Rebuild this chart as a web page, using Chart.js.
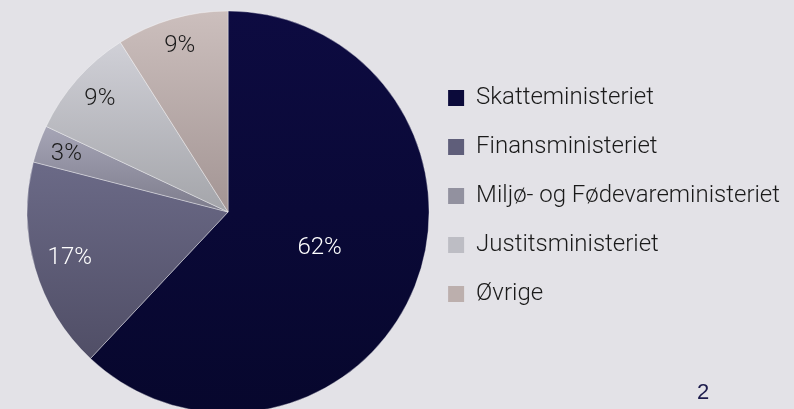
<!DOCTYPE html>
<html>
<head>
<meta charset="utf-8">
<script src="https://cdn.jsdelivr.net/npm/chart.js@4/dist/chart.umd.min.js"></script>
<style>
  html, body { margin: 0; padding: 0; background: #e3e2e7; overflow: hidden; }
  #wrap { position: relative; width: 794px; height: 409px; }
  #pageNo { position: absolute; left: 697px; top: 381px; font: 22px 'Liberation Sans', Arial, sans-serif; line-height: 22px; color: #1c1b4c; }
</style>
</head>
<body>
<div id="wrap">
  <canvas id="chart" width="794" height="409"></canvas>
  <div id="pageNo">2</div>
</div>
<script>
// Data
const categories = ['Skatteministeriet', 'Finansministeriet', 'Miljø- og Fødevareministeriet', 'Justitsministeriet', 'Øvrige'];
const shares = [62, 17, 3, 9, 9];

// Styles
const topColors = ['#0d0b41', '#6b6a87', '#a6a5b6', '#d0d0d7', '#ccbfbd'];
const bottomColors = ['#07072d', '#504e66', '#7d7c8c', '#a4a5aa', '#a39594'];
const legendColors = ['#0b0a3a', '#5f5e7a', '#92919f', '#bdbdc4', '#bcafad'];
const labelColors = ['#ffffff', '#ffffff', '#1a1a1a', '#1a1a1a', '#1a1a1a'];
const labelRadius = [0.49, 0.82, 0.855, 0.85, 0.86];
const pieRadius = 201;
const fontFamily = "Roboto, 'Noto Sans', sans-serif";

Chart.defaults.font.family = fontFamily;
Chart.defaults.color = '#1a1a1a';

// each slice gets its own top-to-bottom gradient, like the original
const sliceGradient = (context) => {
  const chart = context.chart;
  const area = chart.chartArea;
  const i = context.dataIndex;
  if (!area) return bottomColors[i];
  const total = shares.reduce((a, b) => a + b, 0);
  let before = 0;
  for (let k = 0; k < i; k++) before += shares[k];
  const a0 = -Math.PI / 2 + (before / total) * 2 * Math.PI;
  const a1 = a0 + (shares[i] / total) * 2 * Math.PI;
  const cy = (area.top + area.bottom) / 2;
  const ys = [cy, cy + pieRadius * Math.sin(a0), cy + pieRadius * Math.sin(a1)];
  [Math.PI / 2, (3 * Math.PI) / 2].forEach((a) => {
    if (a >= a0 && a <= a1) ys.push(cy + pieRadius * Math.sin(a));
  });
  const g = chart.ctx.createLinearGradient(0, Math.min(...ys), 0, Math.max(...ys));
  g.addColorStop(0, topColors[i]);
  g.addColorStop(1, bottomColors[i]);
  return g;
};

// percentage labels inside the slices
const sliceLabels = {
  id: 'sliceLabels',
  afterDatasetsDraw(chart) {
    const ctx = chart.ctx;
    const meta = chart.getDatasetMeta(0);
    ctx.save();
    ctx.font = '300 24px ' + fontFamily;
    ctx.textAlign = 'center';
    ctx.textBaseline = 'middle';
    meta.data.forEach((arc, i) => {
      const p = arc.getProps(['x', 'y', 'startAngle', 'endAngle', 'outerRadius'], true);
      const mid = (p.startAngle + p.endAngle) / 2;
      const r = p.outerRadius * labelRadius[i];
      ctx.fillStyle = labelColors[i];
      ctx.fillText(shares[i] + '%', p.x + Math.cos(mid) * r, p.y + Math.sin(mid) * r);
    });
    ctx.restore();
  },
};

let myChart = document.getElementById('chart').getContext('2d');

new Chart(myChart, {
  type: 'pie',
  data: {
    labels: categories,
    datasets: [
      {
        data: shares,
        backgroundColor: sliceGradient,
        borderColor: 'rgba(255,255,255,0.45)',
        borderWidth: 0.8,
      },
    ],
  },
  options: {
    responsive: false,
    animation: false,
    radius: pieRadius,
    layout: {
      padding: { top: 15, bottom: 0, left: 33, right: 4 },
    },
    plugins: {
      tooltip: { enabled: false },
      legend: {
        display: true,
        position: 'right',
        align: 'start',
        title: { display: true, text: '', font: { size: 16, lineHeight: 1 }, padding: 15 },
        labels: {
          boxWidth: 16,
          boxHeight: 16,
          padding: 25,
          color: '#1a1a1a',
          font: { size: 24, weight: '300' },
          generateLabels: (chart) =>
            chart.data.labels.map((label, i) => ({
              text: label,
              fillStyle: legendColors[i],
              strokeStyle: legendColors[i],
              lineWidth: 0,
              hidden: false,
              index: i,
            })),
        },
      },
    },
  },
  plugins: [sliceLabels],
});
</script>
</body>
</html>
